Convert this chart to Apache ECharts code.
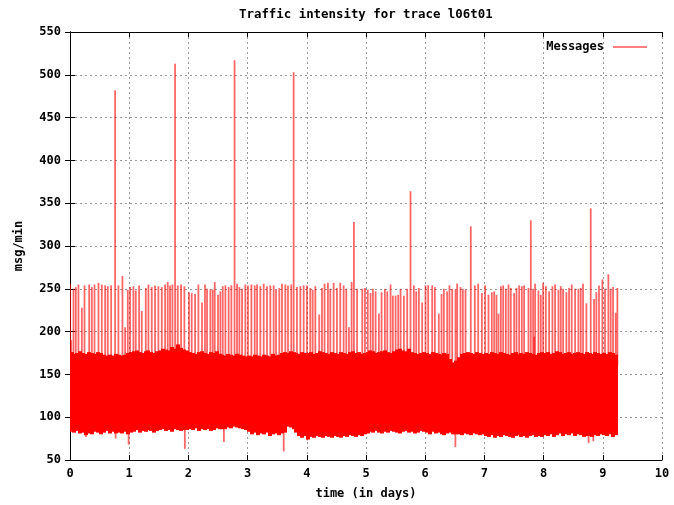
<!DOCTYPE html>
<html>
<head>
<meta charset="utf-8">
<script src="https://cdn.jsdelivr.net/npm/echarts@6/dist/echarts.min.js"></script>
<style>html,body{margin:0;padding:0;background:#fff}#c{width:674px;height:505px}</style>
</head>
<body>
<div id="c"></div>
<script>
// ---- data ----
const chartTitle = 'Traffic intensity for trace l06t01';
const seriesName = 'Messages';
const xAxisName = 'time (in days)';
const yAxisName = 'msg/min';

// dense band (per 0.05-day slot): time, lowest and highest value of the per-minute rate
const bandTime = [
0.00,0.05,0.10,0.15,0.20,0.25,0.30,0.35,0.40,0.45,0.50,0.55,0.60,0.65,0.70,0.75,0.80,0.85,0.90,0.95,
1.00,1.05,1.10,1.15,1.20,1.25,1.30,1.35,1.40,1.45,1.50,1.55,1.60,1.65,1.70,1.75,1.80,1.85,1.90,1.95,
2.00,2.05,2.10,2.15,2.20,2.25,2.30,2.35,2.40,2.45,2.50,2.55,2.60,2.65,2.70,2.75,2.80,2.85,2.90,2.95,
3.00,3.05,3.10,3.15,3.20,3.25,3.30,3.35,3.40,3.45,3.50,3.55,3.60,3.65,3.70,3.75,3.80,3.85,3.90,3.95,
4.00,4.05,4.10,4.15,4.20,4.25,4.30,4.35,4.40,4.45,4.50,4.55,4.60,4.65,4.70,4.75,4.80,4.85,4.90,4.95,
5.00,5.05,5.10,5.15,5.20,5.25,5.30,5.35,5.40,5.45,5.50,5.55,5.60,5.65,5.70,5.75,5.80,5.85,5.90,5.95,
6.00,6.05,6.10,6.15,6.20,6.25,6.30,6.35,6.40,6.45,6.50,6.55,6.60,6.65,6.70,6.75,6.80,6.85,6.90,6.95,
7.00,7.05,7.10,7.15,7.20,7.25,7.30,7.35,7.40,7.45,7.50,7.55,7.60,7.65,7.70,7.75,7.80,7.85,7.90,7.95,
8.00,8.05,8.10,8.15,8.20,8.25,8.30,8.35,8.40,8.45,8.50,8.55,8.60,8.65,8.70,8.75,8.80,8.85,8.90,8.95,
9.00,9.05,9.10,9.15,9.20];
const bandLow = [
83,82,84,81,82,79,81,80,83,82,80,82,84,81,83,81,82,81,83,80,
82,83,85,82,84,83,85,84,82,84,85,86,84,85,83,86,85,84,85,85,
86,85,87,84,86,85,86,84,85,87,86,86,86,88,87,89,88,87,86,85,
83,80,82,79,81,80,82,78,80,81,79,81,82,89,88,86,82,78,76,78,
74,77,76,78,77,76,78,77,76,78,77,76,78,77,79,78,77,79,78,80,
81,83,82,84,82,81,83,82,84,83,82,81,83,84,82,83,81,82,84,83,
82,80,83,81,82,80,79,81,82,80,80,80,79,81,80,79,81,80,79,80,
78,77,79,76,78,77,79,78,77,76,78,79,77,78,76,78,79,77,78,77,
79,78,80,77,79,81,78,80,79,81,78,80,79,77,78,78,77,79,78,80,
79,78,80,77,79];
const bandHigh = [
176,174,175,177,175,174,176,175,174,176,175,173,172,173,172,174,173,172,173,175,
176,177,178,176,175,177,178,176,175,177,178,180,179,178,182,180,185,181,179,178,
176,175,174,176,177,175,174,176,175,177,174,173,172,174,173,172,174,173,172,171,
172,171,173,172,171,173,172,171,174,172,173,175,176,175,177,176,175,174,176,175,
175,176,174,175,177,176,175,174,176,175,174,176,175,174,176,177,175,176,174,175,
176,178,177,175,176,177,178,176,175,177,179,180,178,177,180,176,175,174,175,176,
175,174,176,175,174,173,175,174,168,164,166,170,174,175,176,175,174,176,175,174,
175,174,176,175,174,176,175,174,173,175,176,174,175,174,176,175,174,173,175,176,
175,176,174,175,177,176,174,175,176,174,175,176,175,174,176,175,174,176,175,174,
175,174,176,175,173];
const bandStep = 0.05;

// isolated single-minute drops below the band
const dipTime  = [0.27, 0.77, 0.99, 1.94, 2.60, 3.61, 4.01, 6.51, 8.76, 8.84];
const dipValue = [77,   75,   68,   63,   71,   60,   73,   65,   70,   72];

// isolated peaks above the band
const spikeTime = [
0.003,0.02,0.059,0.098,0.143,0.20,0.245,0.324,0.368,0.414,0.481,0.537,0.594,0.638,0.695,0.762,0.818,0.886,0.931,0.976,
1.015,1.071,1.111,1.167,1.212,1.28,1.325,1.381,1.437,1.493,1.55,1.606,1.651,1.69,1.73,1.775,1.82,1.876,1.932,
2.011,2.056,2.113,2.169,2.23,2.28,2.315,2.371,2.411,2.445,2.50,2.54,2.58,2.625,2.68,2.726,2.78,2.822,2.861,2.906,2.962,
3.007,3.064,3.12,3.16,3.215,3.272,3.328,3.384,3.44,3.48,3.536,3.581,3.637,3.682,3.738,3.778,3.834,3.891,3.947,
4.003,4.059,4.099,4.144,4.21,4.256,4.30,4.357,4.397,4.453,4.509,4.565,4.622,4.667,4.712,4.757,4.796,4.85,4.937,4.982,
5.03,5.077,5.117,5.162,5.218,5.263,5.319,5.36,5.415,5.454,5.50,5.544,5.584,5.64,5.696,5.752,5.808,5.848,5.893,5.949,
6.005,6.05,6.118,6.163,6.23,6.276,6.315,6.371,6.41,6.456,6.512,6.54,6.596,6.636,6.681,6.77,6.838,6.895,6.957,
7.013,7.069,7.125,7.165,7.204,7.238,7.278,7.317,7.362,7.407,7.446,7.503,7.542,7.587,7.632,7.671,7.745,7.784,7.823,7.84,7.857,7.913,7.953,7.992,
8.037,8.093,8.149,8.194,8.251,8.29,8.329,8.385,8.43,8.475,8.532,8.588,8.627,8.666,8.723,8.796,8.852,8.891,8.936,8.993,
9.037,9.094,9.133,9.173,9.218,9.246];
const spikeValue = [
256,190,250,252,255,228,254,255,252,255,257,255,254,253,254,482,254,265,205,249,
252,253,248,254,224,251,255,252,254,253,252,255,258,254,255,513,254,255,253,
246,245,244,255,234,255,250,249,249,258,243,247,253,254,252,254,517,256,252,250,255,
254,255,254,255,253,256,253,254,254,249,251,256,255,254,255,503,252,253,254,
254,251,249,253,220,251,256,257,250,257,251,257,254,250,205,258,328,250,250,251,
249,245,250,247,221,246,250,247,255,242,242,243,250,242,250,364,254,247,251,234,
254,254,254,252,221,244,250,247,254,250,249,256,252,250,249,323,254,256,245,
254,243,246,247,243,221,253,254,250,255,251,245,251,254,253,254,251,330,250,194,256,248,243,257,
253,247,253,255,249,253,250,246,251,255,250,250,251,256,233,344,238,246,254,261,
250,267,250,252,222,251];

const xMin = 0, xMax = 10, xStep = 1;
const yMin = 50, yMax = 550, yStep = 50;

// ---- chart ----
const bandData = bandTime.map((t, i) => [t, bandLow[i], bandHigh[i]]);
const spikeData = spikeTime.map((t, i) => [t, 160, spikeValue[i]]);
const dipData = dipTime.map((t, i) => [t, dipValue[i], 100]);

const FONT = '"DejaVu Sans Mono", "Liberation Mono", monospace';
const txt = { fontFamily: FONT, fontWeight: 'bold', fontSize: 12, color: '#000' };
const frame = { show: true, lineStyle: { color: '#000', width: 1 } };
const tick = { show: true, inside: true, length: 5, lineStyle: { color: '#000' } };
const grid = { show: true, lineStyle: { color: '#999999', type: [2, 3], width: 1 } };

function vline(params, api) {
  const t = api.value(0), a = api.coord([t, api.value(1)]), b = api.coord([t, api.value(2)]);
  return { type: 'line', shape: { x1: a[0], y1: a[1], x2: b[0], y2: b[1] },
           style: { stroke: 'rgba(255,0,0,0.6)', lineWidth: 1.8 } };
}

const chart = echarts.init(document.getElementById('c'), null, { renderer: 'canvas' });
chart.setOption({
  animation: false,
  backgroundColor: '#fff',
  color: ['#ff0000'],
  title: {
    text: chartTitle, left: 234, top: 4,
    textStyle: Object.assign({}, txt, { fontSize: 12.4 })
  },
  legend: {
    data: [seriesName], right: 22, top: 36, align: 'right',
    icon: 'rect', itemWidth: 34, itemHeight: 1,
    textStyle: Object.assign({}, txt, { padding: [0, 4, 0, 0] })
  },
  grid: { left: 70, right: 12, top: 32, bottom: 45 },
  xAxis: [
    { type: 'value', min: xMin, max: xMax, interval: xStep, position: 'bottom',
      axisLine: frame, axisTick: tick, splitLine: grid,
      axisLabel: Object.assign({ margin: 8 }, txt),
      name: xAxisName, nameLocation: 'middle', nameGap: 28, nameTextStyle: txt },
    { type: 'value', min: xMin, max: xMax, interval: xStep, position: 'top',
      axisLine: frame, axisTick: tick, splitLine: { show: false }, axisLabel: { show: false } }
  ],
  yAxis: [
    { type: 'value', min: yMin, max: yMax, interval: yStep, position: 'left',
      axisLine: frame, axisTick: tick, splitLine: grid,
      axisLabel: Object.assign({ margin: 9 }, txt),
      name: yAxisName, nameLocation: 'middle', nameGap: 45, nameRotate: 90, nameTextStyle: txt },
    { type: 'value', min: yMin, max: yMax, interval: yStep, position: 'right',
      axisLine: frame, axisTick: tick, splitLine: { show: false }, axisLabel: { show: false } }
  ],
  series: [
    {
      name: seriesName, type: 'custom', xAxisIndex: 0, yAxisIndex: 0, clip: true,
      itemStyle: { color: '#ff0000' },
      encode: { x: 0, y: [1, 2] },
      data: bandData,
      renderItem: function (params, api) {
        const t = api.value(0), lo = api.value(1), hi = api.value(2);
        const top = api.coord([t, hi]);
        const bot = api.coord([t, lo]);
        const w = api.size([bandStep, 0])[0];
        const x0 = Math.floor(top[0]);
        return { type: 'rect', shape: { x: x0, y: top[1], width: Math.ceil(w) + 1, height: bot[1] - top[1] },
                 style: { fill: '#ff0000' } };
      }
    },
    {
      name: seriesName, type: 'custom', xAxisIndex: 0, yAxisIndex: 0, clip: true,
      itemStyle: { color: '#ff0000' },
      encode: { x: 0, y: [1, 2] },
      data: spikeData,
      renderItem: vline
    },
    {
      name: seriesName, type: 'custom', xAxisIndex: 0, yAxisIndex: 0, clip: true,
      itemStyle: { color: '#ff0000' },
      encode: { x: 0, y: [1, 2] },
      data: dipData,
      renderItem: vline
    }
  ]
});
</script>
</body>
</html>
